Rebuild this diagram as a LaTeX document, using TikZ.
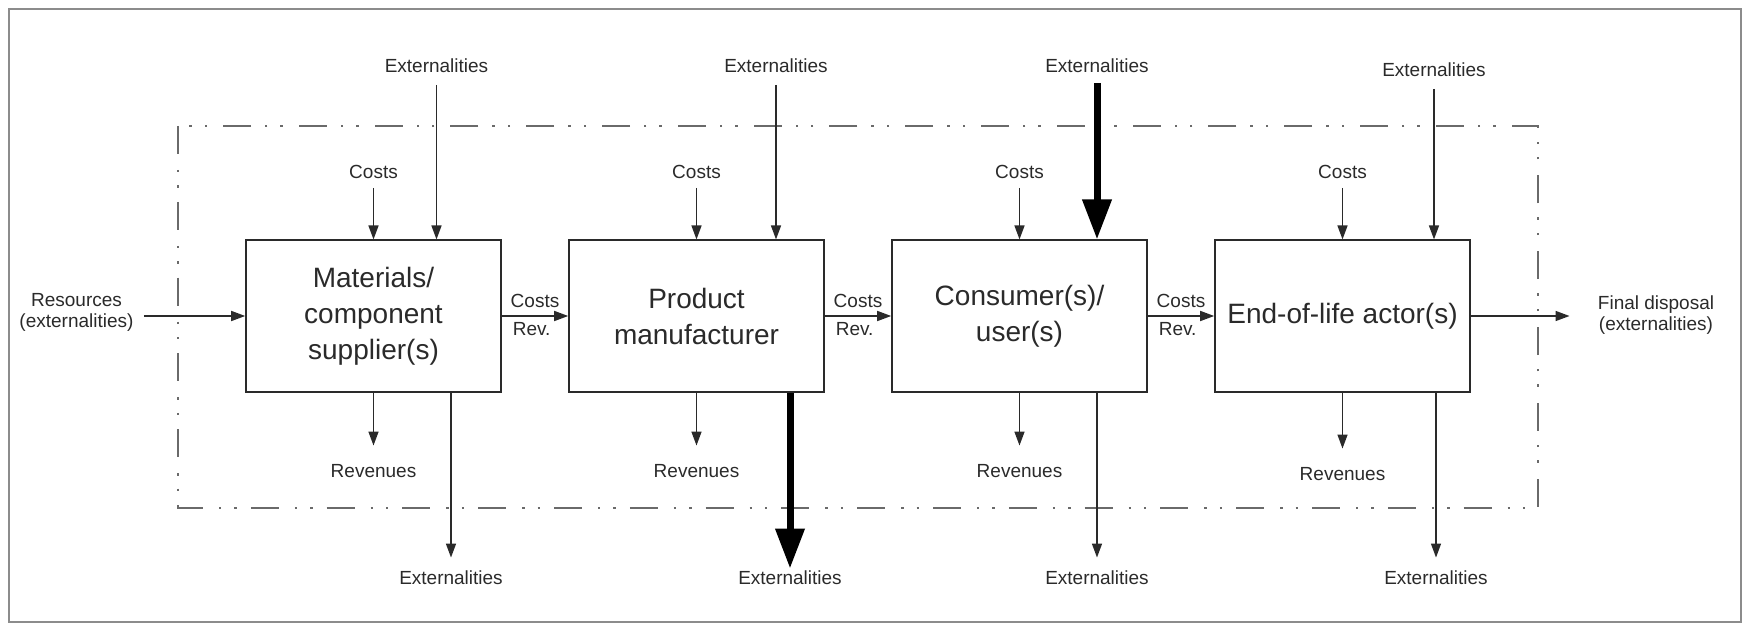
\documentclass[tikz,border=0pt]{standalone}
\usepackage{fontspec}
\setmainfont{Liberation Sans}
\usetikzlibrary{arrows.meta, positioning}

\definecolor{ink}{HTML}{2A2A2A}
\definecolor{framegray}{HTML}{8C8C8C}
\definecolor{bordergray}{HTML}{6A6A6A}

\begin{document}
\begin{tikzpicture}[x=0.5pt, y=-0.5pt,
    actor/.style={draw=ink, line width=0.8pt, minimum width=127.5pt, minimum height=75.75pt,
                  align=center, font=\fontsize{14}{18}\selectfont, text=ink},
    lbl/.style={font=\fontsize{9.5}{10.5}\selectfont, text=ink, align=center, inner sep=1pt},
    flow/.style={draw=ink, line width=0.75pt, -{Triangle[length=7pt, width=5pt]}},
    bigflow/.style={draw=black, line width=3.5pt, -{Triangle[length=20pt, width=14pt]}}]
    \useasboundingbox (0,0) rectangle (1746,626);

    % frame and system boundary
    \draw[framegray, line width=1pt] (9,9) rectangle (1741,622);
    \draw[bordergray, line width=1.2pt, dash pattern=on 14pt off 8pt on 1.2pt off 6.5pt on 1.2pt off 7pt]
        (178,126) rectangle (1538,508);

    % actors along the chain
    \foreach \i/\x/\t in {1/373.5/{Materials/\\component\\supplier(s)},
                          2/696.5/{Product\\manufacturer},
                          3/1019.5/{Consumer(s)/\\user(s)},
                          4/1342.5/{End-of-life actor(s)}} {
        \node[actor] (box\i) at (\x,316) {\t};
    }

    % costs, revenues and externalities of each actor
    \foreach \i/\u/\d/\s in {1/63/77.5/0, 2/79.5/93.5/0, 3/77.5/77.5/0, 4/91.5/93.5/2} {
        \node[lbl, above=29.3pt of box\i.north] (cost\i) {Costs};
        \node[lbl, below=34.5pt+\s*0.75pt of box\i.south] (rev\i) {Revenues};
        \node[lbl, above=82.3pt-\s*1pt of box\i.north, xshift=\u*0.5pt] (extin\i) {Externalities};
        \node[lbl, below=88pt of box\i.south, xshift=\d*0.5pt] (extout\i) {Externalities};
        \draw[flow, shorten <=3.5pt] (cost\i) -- (box\i);
        \draw[flow, shorten >=8pt] (box\i) -- (rev\i);
        \ifnum\i=3
            \draw[bigflow, shorten <=4pt] (extin\i) -- (extin\i |- box\i.north);
        \else
            \draw[flow, shorten <=5pt] (extin\i) -- (extin\i |- box\i.north);
        \fi
        \ifnum\i=2
            \draw[bigflow] (extout\i |- box\i.south) -- (extout\i);
        \else
            \draw[flow, shorten >=5.5pt] (extout\i |- box\i.south) -- (extout\i);
        \fi
    }

    % money flows between neighbours
    \foreach \i/\j in {1/2, 2/3, 3/4} {
        \draw[flow] (box\i) -- node[lbl, above=3pt] (c\i) {Costs}
                               node[lbl, below=2pt, pos=0.45] (r\i) {Rev.} (box\j);
    }

    % inputs and final disposal
    \node[lbl] (res) at (76.5,312) {Resources\\(externalities)};
    \node[lbl] (fin) at (1656,315) {Final disposal\\(externalities)};
    \draw[flow, shorten <=4pt] (res.east |- box1.west) -- (box1.west);
    \draw[flow, shorten >=13pt] (box4.east) -- (fin.west |- box4.east);
\end{tikzpicture}
\end{document}
